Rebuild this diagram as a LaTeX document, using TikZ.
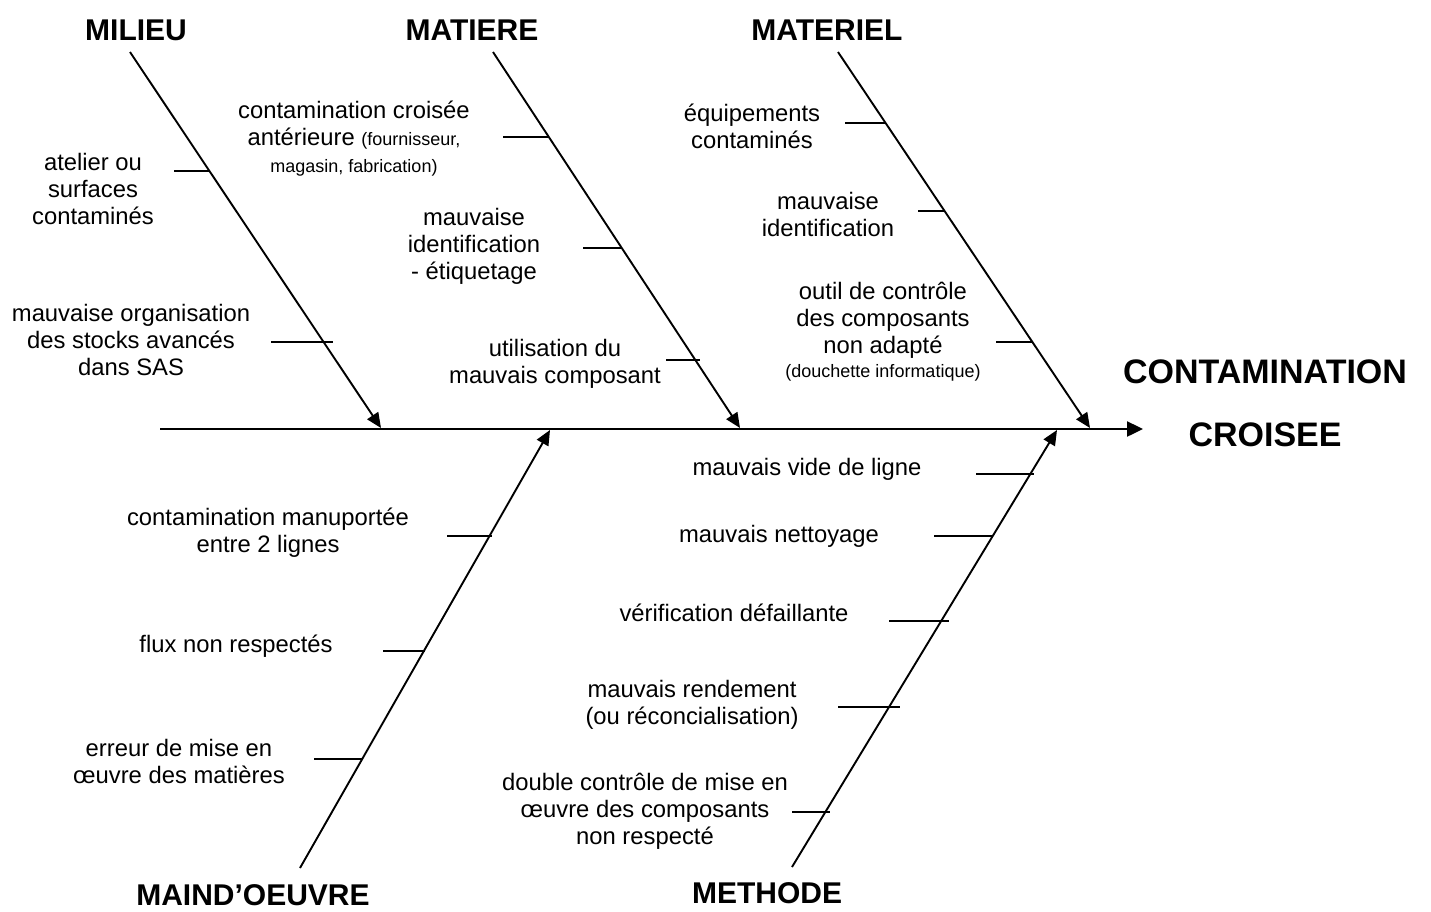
\documentclass[tikz,border=0pt]{standalone}
\usepackage{fontspec}
\setmainfont{Liberation Sans}
\usetikzlibrary{arrows.meta}
\begin{document}
\begin{tikzpicture}[x=1pt,y=-1pt,
  lbl/.style={font=\fontsize{23.8}{27}\selectfont, align=center, inner sep=0pt},
  ttl/.style={font=\fontsize{30}{34}\selectfont\bfseries, inner sep=0pt},
  bigttl/.style={font=\fontsize{34}{38}\selectfont\bfseries, inner sep=0pt},
  bone/.style={line width=1.9pt, -{Triangle[length=15pt,width=13pt]}},
  spine/.style={line width=2.4pt, -{Triangle[length=16pt,width=15pt]}},
  tickln/.style={line width=1.4pt}]
\useasboundingbox (0,0) rectangle (1431,911);
\newcommand{\sm}{\fontsize{18}{27}\selectfont}
% titles
\node[ttl] (tmil) at (136,30) {MILIEU};
\node[ttl] (tmat) at (472,30) {MATIERE};
\node[ttl] (tmtl) at (827,30) {MATERIEL};
\node[ttl] (tmo) at (253,895) {MAIND’OEUVRE};
\node[ttl] (tmet) at (767,893) {METHODE};
\node[bigttl] (tcont) at (1265,372) {CONTAMINATION};
\node[bigttl] (tcroi) at (1265,435) {CROISEE};
% bone ends
\coordinate (milS) at (130,52);  \coordinate (milE) at (381,428);
\coordinate (matS) at (493,52);  \coordinate (matE) at (740,428);
\coordinate (mtlS) at (838,52);  \coordinate (mtlE) at (1090,428);
\coordinate (moS) at (300,868);  \coordinate (moE) at (550,430);
\coordinate (metS) at (792,867); \coordinate (metE) at (1057,430);
\coordinate (spS) at (160,429);  \coordinate (spE) at (1143,429);
\draw[spine] (spS) -- (spE);
\draw[bone] (milS) -- (milE);
\draw[bone] (matS) -- (matE);
\draw[bone] (mtlS) -- (mtlE);
\draw[bone] (moS) -- (moE);
\draw[bone] (metS) -- (metE);
% ticks
\coordinate (k1a) at (174,171); \coordinate (k1b) at (210,171);
\coordinate (k2a) at (271,342); \coordinate (k2b) at (333,342);
\coordinate (k3a) at (503,137); \coordinate (k3b) at (549,137);
\coordinate (k4a) at (583,248); \coordinate (k4b) at (622,248);
\coordinate (k5a) at (666,360); \coordinate (k5b) at (700,360);
\coordinate (k6a) at (845,123); \coordinate (k6b) at (885,123);
\coordinate (k7a) at (918,211); \coordinate (k7b) at (944,211);
\coordinate (k8a) at (996,342); \coordinate (k8b) at (1033,342);
\coordinate (k9a) at (447,536); \coordinate (k9b) at (492,536);
\coordinate (k10a) at (383,651); \coordinate (k10b) at (425,651);
\coordinate (k11a) at (314,759); \coordinate (k11b) at (363,759);
\coordinate (k12a) at (976,474); \coordinate (k12b) at (1034,474);
\coordinate (k13a) at (934,536); \coordinate (k13b) at (993,536);
\coordinate (k14a) at (889,621); \coordinate (k14b) at (949,621);
\coordinate (k15a) at (838,707); \coordinate (k15b) at (900,707);
\coordinate (k16a) at (792,812); \coordinate (k16b) at (830,812);
\foreach \i in {1,...,16} {\draw[tickln] (k\i a) -- (k\i b);}
% labels
\node[lbl] (l1) at (93,189) {atelier ou\\surfaces\\contaminés};
\node[lbl] (l2) at (131,340) {mauvaise organisation\\des stocks avancés\\dans SAS};
\node[lbl] (l3) at (354,139) {contamination croisée\\antérieure {\sm(fournisseur,}\\{\sm magasin, fabrication)}};
\node[lbl] (l4) at (474,246) {mauvaise\\identification\\- étiquetage};
\node[lbl] (l5) at (555,364) {utilisation du\\mauvais composant};
\node[lbl] (l6) at (752,126) {équipements\\contaminés};
\node[lbl] (l7) at (828,214) {mauvaise\\identification};
\node[lbl] (l8) at (883,332) {outil de contrôle\\des composants\\non adapté\\[-3pt]{\sm (douchette informatique)}};
\node[lbl] (l9) at (268,533) {contamination manuportée\\entre 2 lignes};
\node[lbl] (l10) at (236,646) {flux non respectés};
\node[lbl] (l11) at (179,761) {erreur de mise en\\œuvre des matières};
\node[lbl] (l12) at (807,469) {mauvais vide de ligne};
\node[lbl] (l13) at (779,536) {mauvais nettoyage};
\node[lbl] (l14) at (734,613) {vérification défaillante};
\node[lbl] (l15) at (692,705) {mauvais rendement\\(ou réconcialisation)};
\node[lbl] (l16) at (645,811) {double contrôle de mise en\\œuvre des composants\\non respecté};
\end{tikzpicture}
\end{document}
